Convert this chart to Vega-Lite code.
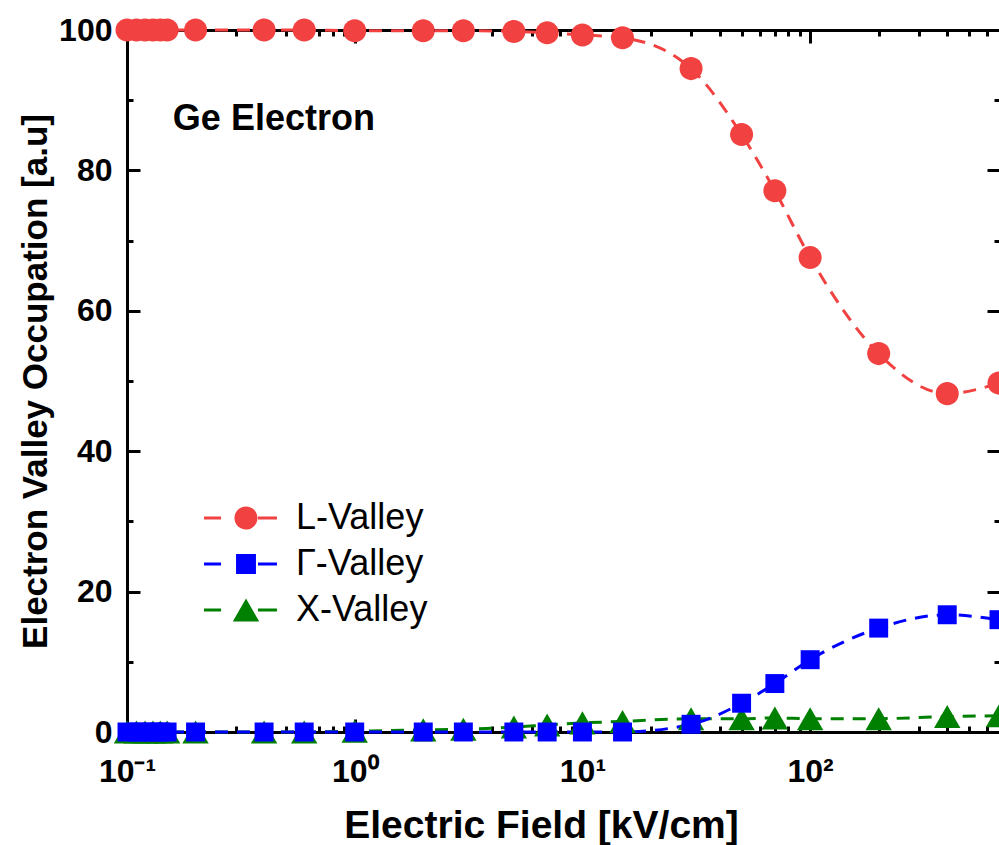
{
  "$schema": "https://vega.github.io/schema/vega-lite/v6.json",
  "autosize": "none",
  "width": 873,
  "height": 702,
  "padding": {"left": 127, "top": 30, "right": 0, "bottom": 113},
  "background": "white",
  "config": {
    "view": {"stroke": null},
    "axis": {
      "domainColor": "black", "domainWidth": 3, "tickColor": "black", "tickWidth": 3,
      "grid": false, "labelFont": "Liberation Sans", "labelFontWeight": "bold", "labelFontSize": 32,
      "labelColor": "black", "titleFont": "Liberation Sans", "titleFontWeight": "bold", "titleColor": "black",
      "labelFlush": false, "labelOverlap": false, "labelBound": false
    }
  },
  "data": {"values": [
    {"series": "X-Valley", "E": 0.1, "occ": 0}, {"series": "X-Valley", "E": 0.11, "occ": 0}, {"series": "X-Valley", "E": 0.12, "occ": 0},
    {"series": "X-Valley", "E": 0.13, "occ": 0}, {"series": "X-Valley", "E": 0.14, "occ": 0}, {"series": "X-Valley", "E": 0.15, "occ": 0},
    {"series": "X-Valley", "E": 0.2, "occ": 0}, {"series": "X-Valley", "E": 0.4, "occ": 0}, {"series": "X-Valley", "E": 0.6, "occ": 0},
    {"series": "X-Valley", "E": 1, "occ": 0.1}, {"series": "X-Valley", "E": 2, "occ": 0.3}, {"series": "X-Valley", "E": 3, "occ": 0.4},
    {"series": "X-Valley", "E": 5, "occ": 0.7}, {"series": "X-Valley", "E": 7, "occ": 1.0}, {"series": "X-Valley", "E": 10, "occ": 1.3},
    {"series": "X-Valley", "E": 15, "occ": 1.5}, {"series": "X-Valley", "E": 30, "occ": 1.9}, {"series": "X-Valley", "E": 50, "occ": 1.9},
    {"series": "X-Valley", "E": 70, "occ": 2.0}, {"series": "X-Valley", "E": 100, "occ": 1.9}, {"series": "X-Valley", "E": 200, "occ": 1.9},
    {"series": "X-Valley", "E": 400, "occ": 2.2}, {"series": "X-Valley", "E": 675, "occ": 2.3},
    {"series": "Γ-Valley", "E": 0.1, "occ": 0}, {"series": "Γ-Valley", "E": 0.11, "occ": 0}, {"series": "Γ-Valley", "E": 0.12, "occ": 0},
    {"series": "Γ-Valley", "E": 0.13, "occ": 0}, {"series": "Γ-Valley", "E": 0.14, "occ": 0}, {"series": "Γ-Valley", "E": 0.15, "occ": 0},
    {"series": "Γ-Valley", "E": 0.2, "occ": 0}, {"series": "Γ-Valley", "E": 0.4, "occ": 0}, {"series": "Γ-Valley", "E": 0.6, "occ": 0},
    {"series": "Γ-Valley", "E": 1, "occ": 0}, {"series": "Γ-Valley", "E": 2, "occ": 0}, {"series": "Γ-Valley", "E": 3, "occ": 0},
    {"series": "Γ-Valley", "E": 5, "occ": 0}, {"series": "Γ-Valley", "E": 7, "occ": 0}, {"series": "Γ-Valley", "E": 10, "occ": 0},
    {"series": "Γ-Valley", "E": 15, "occ": 0}, {"series": "Γ-Valley", "E": 30, "occ": 1.1}, {"series": "Γ-Valley", "E": 50, "occ": 4.1},
    {"series": "Γ-Valley", "E": 70, "occ": 6.9}, {"series": "Γ-Valley", "E": 100, "occ": 10.3}, {"series": "Γ-Valley", "E": 200, "occ": 14.8},
    {"series": "Γ-Valley", "E": 400, "occ": 16.7}, {"series": "Γ-Valley", "E": 675, "occ": 16.0},
    {"series": "L-Valley", "E": 0.1, "occ": 100}, {"series": "L-Valley", "E": 0.11, "occ": 100}, {"series": "L-Valley", "E": 0.12, "occ": 100},
    {"series": "L-Valley", "E": 0.13, "occ": 100}, {"series": "L-Valley", "E": 0.14, "occ": 100}, {"series": "L-Valley", "E": 0.15, "occ": 100},
    {"series": "L-Valley", "E": 0.2, "occ": 100}, {"series": "L-Valley", "E": 0.4, "occ": 100}, {"series": "L-Valley", "E": 0.6, "occ": 100},
    {"series": "L-Valley", "E": 1, "occ": 99.9}, {"series": "L-Valley", "E": 2, "occ": 99.9}, {"series": "L-Valley", "E": 3, "occ": 99.9},
    {"series": "L-Valley", "E": 5, "occ": 99.8}, {"series": "L-Valley", "E": 7, "occ": 99.6}, {"series": "L-Valley", "E": 10, "occ": 99.3},
    {"series": "L-Valley", "E": 15, "occ": 98.9}, {"series": "L-Valley", "E": 30, "occ": 94.5}, {"series": "L-Valley", "E": 50, "occ": 85.1},
    {"series": "L-Valley", "E": 70, "occ": 77.1}, {"series": "L-Valley", "E": 100, "occ": 67.6}, {"series": "L-Valley", "E": 200, "occ": 53.9},
    {"series": "L-Valley", "E": 400, "occ": 48.2}, {"series": "L-Valley", "E": 675, "occ": 49.7}
  ]},
  "resolve": {"axis": {"x": "independent", "y": "independent"}},
  "layer": [
    {
      "mark": {"type": "line", "interpolate": "monotone", "strokeWidth": 3, "strokeDash": [13, 9]},
      "encoding": {
        "x": {"field": "E", "type": "quantitative",
          "scale": {"type": "log", "domain": [0.1, 682], "nice": false},
          "axis": {"orient": "bottom", "values": [0.1, 1, 10, 100], "tickSize": -13, "labelPadding": 37,
            "labelExpr": "datum.value < 0.5 ? '10⁻¹' : datum.value < 5 ? '10⁰' : datum.value < 50 ? '10¹' : '10²'",
            "title": "Electric Field [kV/cm]", "titleFontSize": 39, "titleX": 414, "titleY": 105,
            "titleAlign": "center", "titleBaseline": "alphabetic"}},
        "y": {"field": "occ", "type": "quantitative",
          "scale": {"domain": [0, 100], "nice": false, "zero": true},
          "axis": {"orient": "left", "values": [0, 20, 40, 60, 80, 100], "tickSize": -13, "labelPadding": 28,
            "title": "Electron Valley Occupation [a.u]", "titleFontSize": 35, "titleX": -92, "titleY": 351,
            "titleAngle": -90, "titleAlign": "center", "titleBaseline": "middle"}},
        "stroke": {"field": "series", "type": "nominal",
          "scale": {"domain": ["X-Valley", "Γ-Valley", "L-Valley"], "range": ["#008000", "#0000FF", "#F24141"]},
          "legend": null}
      }
    },
    {
      "transform": [{"filter": "datum.series === 'X-Valley'"}],
      "mark": {"type": "point", "filled": true, "opacity": 1, "strokeWidth": 0, "size": 576, "color": "#008000",
        "shape": "M0,-0.96L1.1,0.96L-1.1,0.96Z"},
      "encoding": {
        "x": {"field": "E", "type": "quantitative",
          "axis": {"orient": "top", "values": [0.1, 1, 10, 100], "tickSize": -13, "labels": false, "title": null}},
        "y": {"field": "occ", "type": "quantitative",
          "axis": {"orient": "right", "values": [0, 20, 40, 60, 80, 100], "tickSize": -13, "labels": false, "title": null}}
      }
    },
    {
      "transform": [{"filter": "datum.series === 'Γ-Valley'"}],
      "mark": {"type": "point", "filled": true, "opacity": 1, "strokeWidth": 0, "size": 576, "color": "#0000FF",
        "shape": "M-0.79,-0.79L0.79,-0.79L0.79,0.79L-0.79,0.79Z"},
      "encoding": {
        "x": {"field": "E", "type": "quantitative", "axis": null},
        "y": {"field": "occ", "type": "quantitative", "axis": null}
      }
    },
    {
      "transform": [{"filter": "datum.series === 'L-Valley'"}],
      "mark": {"type": "point", "filled": true, "opacity": 1, "strokeWidth": 0, "size": 576, "color": "#F24141",
        "shape": "M0.96,0A0.96,0.96,0,1,1,-0.96,0A0.96,0.96,0,1,1,0.96,0Z"},
      "encoding": {
        "x": {"field": "E", "type": "quantitative", "axis": null},
        "y": {"field": "occ", "type": "quantitative", "axis": null}
      }
    },
    {
      "mark": {"type": "point", "opacity": 0},
      "encoding": {
        "x": {"field": "E", "type": "quantitative",
          "axis": {"orient": "bottom", "values": [0.2, 0.3, 0.4, 0.5, 0.6, 0.7, 0.8, 0.9, 2, 3, 4, 5, 6, 7, 8, 9, 20, 30, 40, 50, 60, 70, 80, 90, 200, 300, 400, 500, 600],
            "tickSize": -6, "labels": false, "title": null}},
        "y": {"field": "occ", "type": "quantitative",
          "axis": {"orient": "left", "values": [10, 30, 50, 70, 90], "tickSize": -6, "labels": false, "title": null}}
      }
    },
    {
      "mark": {"type": "point", "opacity": 0},
      "encoding": {
        "x": {"field": "E", "type": "quantitative",
          "axis": {"orient": "top", "values": [0.2, 0.3, 0.4, 0.5, 0.6, 0.7, 0.8, 0.9, 2, 3, 4, 5, 6, 7, 8, 9, 20, 30, 40, 50, 60, 70, 80, 90, 200, 300, 400, 500, 600],
            "tickSize": -6, "labels": false, "title": null}},
        "y": {"field": "occ", "type": "quantitative",
          "axis": {"orient": "right", "values": [10, 30, 50, 70, 90], "tickSize": -6, "labels": false, "title": null}}
      }
    },
    {
      "mark": {"type": "point", "filled": true, "opacity": 0, "size": 576},
      "encoding": {
        "x": {"field": "E", "type": "quantitative", "axis": null},
        "y": {"field": "occ", "type": "quantitative", "axis": null},
        "color": {"field": "series", "type": "nominal",
          "scale": {"domain": ["L-Valley", "Γ-Valley", "X-Valley"], "range": ["#F24141", "#0000FF", "#008000"]},
          "legend": {
            "orient": "none", "legendX": 101, "legendY": 470, "title": null, "padding": 0,
            "symbolSize": 576, "symbolStrokeWidth": 0, "symbolOpacity": 1,
            "labelFont": "Liberation Sans", "labelFontSize": 36, "labelColor": "black", "labelOffset": 32,
            "labelLimit": 0, "rowPadding": 10
          }},
        "shape": {"field": "series", "type": "nominal",
          "scale": {"domain": ["L-Valley", "Γ-Valley", "X-Valley"],
            "range": [
              "M-3.5,-0.125L-2.08,-0.125L-2.08,0.125L-3.5,0.125Z M1,-0.125L2.58,-0.125L2.58,0.125L1,0.125Z M0.96,0A0.96,0.96,0,1,1,-0.96,0A0.96,0.96,0,1,1,0.96,0Z",
              "M-3.5,-0.125L-2.08,-0.125L-2.08,0.125L-3.5,0.125Z M1,-0.125L2.58,-0.125L2.58,0.125L1,0.125Z M-0.83,-0.83L0.83,-0.83L0.83,0.83L-0.83,0.83Z",
              "M-3.5,-0.125L-2.08,-0.125L-2.08,0.125L-3.5,0.125Z M1,-0.125L2.58,-0.125L2.58,0.125L1,0.125Z M0,-0.96L1.1,0.96L-1.1,0.96Z"]},
          "legend": null}
      }
    },
    {
      "data": {"values": [{"label": "Ge Electron"}]},
      "mark": {"type": "text", "font": "Liberation Sans", "fontWeight": "bold", "fontSize": 36,
        "align": "left", "baseline": "middle", "color": "black"},
      "encoding": {
        "text": {"field": "label"},
        "x": {"datum": 0.159, "type": "quantitative", "axis": null},
        "y": {"datum": 87.3, "type": "quantitative", "axis": null}
      }
    }
  ]
}
